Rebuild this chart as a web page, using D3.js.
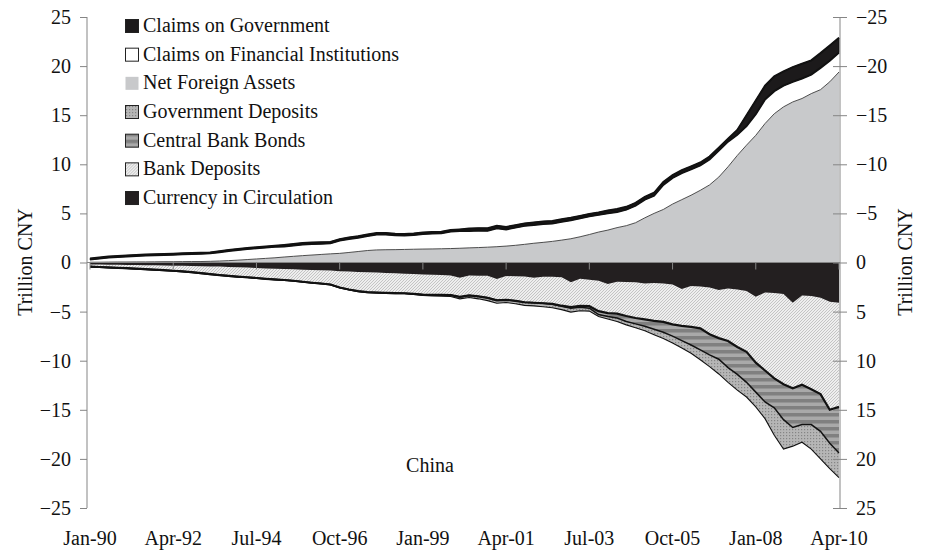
<!DOCTYPE html>
<html><head><meta charset="utf-8">
<script src="https://cdn.jsdelivr.net/npm/d3@7"></script>
<style>
html,body{margin:0;padding:0;background:#fff;}
</style></head>
<body><svg id="chart" width="928" height="556" font-family="Liberation Serif" font-size="20"></svg>
<script>
// quarterly observations, Jan-90 ... Apr-10 (index 0..81)
const tickLabels = ["Jan-90","Apr-92","Jul-94","Oct-96","Jan-99","Apr-01","Jul-03","Oct-05","Jan-08","Apr-10"];
const tickIndex = [0,9,18,27,36,45,54,63,72,81];
const yTicks = [-25,-20,-15,-10,-5,0,5,10,15,20,25];

// assets (trillion CNY)
const netForeignAssets = [0.03,0.03,0.04,0.05,0.05,0.06,0.06,0.07,0.08,0.08,
0.09,0.10,0.10,0.12,0.15,0.19,0.24,0.30,0.36,0.42,
0.48,0.56,0.63,0.70,0.76,0.82,0.88,0.93,1.02,1.12,
1.22,1.28,1.30,1.31,1.33,1.35,1.37,1.38,1.40,1.42,
1.45,1.49,1.52,1.56,1.61,1.67,1.75,1.85,1.96,2.05,
2.15,2.28,2.42,2.62,2.85,3.10,3.30,3.55,3.75,4.05,
4.55,5.00,5.40,5.95,6.40,6.85,7.35,7.90,8.70,9.75,
10.90,11.95,12.95,14.15,15.15,15.85,16.35,16.70,17.20,17.60,
18.40,19.40];
const claimsOnFinInst = [0.27,0.37,0.46,0.51,0.57,0.61,0.65,0.67,0.69,0.72,
0.74,0.76,0.79,0.81,0.90,0.99,1.04,1.07,1.09,1.10,
1.12,1.07,1.10,1.14,1.12,1.09,1.07,1.30,1.38,1.41,
1.48,1.57,1.55,1.46,1.42,1.45,1.53,1.57,1.58,1.73,
1.77,1.71,1.73,1.67,1.88,1.70,1.80,1.88,1.87,1.88,
1.82,1.87,1.88,1.88,1.85,1.75,1.71,1.60,1.63,1.74,
1.85,1.81,2.51,2.66,2.71,2.64,2.54,2.60,2.71,2.56,
2.10,1.95,2.15,2.45,2.30,2.16,2.05,2.04,1.93,2.22,
2.15,1.98];
const claimsOnGov = [0.10,0.10,0.10,0.10,0.10,0.10,0.10,0.10,0.10,0.10,
0.10,0.10,0.10,0.10,0.10,0.10,0.10,0.10,0.10,0.10,
0.10,0.15,0.15,0.15,0.15,0.15,0.15,0.15,0.15,0.15,
0.15,0.15,0.15,0.15,0.15,0.15,0.15,0.15,0.15,0.15,
0.15,0.25,0.25,0.25,0.25,0.25,0.25,0.25,0.25,0.25,
0.25,0.25,0.25,0.25,0.25,0.25,0.29,0.29,0.29,0.29,
0.29,0.29,0.29,0.29,0.29,0.29,0.29,0.29,0.29,0.29,
0.50,1.10,1.40,1.40,1.50,1.45,1.50,1.50,1.45,1.50,
1.55,1.50];
// liabilities (trillion CNY, drawn below zero)
const currency = [0.20,0.21,0.22,0.23,0.25,0.26,0.27,0.29,0.30,0.32,
0.34,0.36,0.38,0.40,0.42,0.45,0.48,0.52,0.56,0.60,
0.64,0.67,0.70,0.73,0.76,0.79,0.82,0.88,0.92,0.96,
1.00,1.03,1.06,1.10,1.15,1.18,1.22,1.25,1.27,1.32,
1.55,1.32,1.34,1.36,1.68,1.38,1.40,1.43,1.55,1.44,
1.46,1.50,2.00,1.65,1.75,1.85,2.20,1.95,1.98,2.00,
2.15,2.10,2.15,2.25,2.70,2.40,2.45,2.55,2.80,2.65,
2.75,2.90,3.50,3.05,3.10,3.20,4.10,3.35,3.40,3.60,
4.00,4.10];
const bankDeposits = [0.22,0.25,0.28,0.31,0.33,0.37,0.41,0.44,0.48,0.52,
0.56,0.62,0.70,0.78,0.86,0.91,0.96,0.98,1.02,1.06,
1.08,1.11,1.16,1.23,1.30,1.35,1.42,1.67,1.83,1.96,
2.02,2.03,2.04,2.02,1.98,2.02,2.06,2.05,2.03,2.00,
1.95,2.03,2.11,2.24,2.17,2.42,2.50,2.62,2.55,2.71,
2.76,2.90,2.55,2.77,2.70,3.10,2.95,3.25,3.47,3.65,
3.65,3.85,3.90,4.05,3.75,4.15,4.25,4.75,4.90,5.35,
5.85,6.20,6.70,7.95,8.70,9.20,8.70,9.10,9.50,9.80,
11.00,10.60];
const centralBankBonds = [0,0,0,0,0,0,0,0,0,0,
0,0,0,0,0,0,0,0,0,0,
0,0,0,0,0,0,0,0,0,0,
0,0,0,0,0,0,0,0,0,0,
0,0,0,0,0,0,0,0,0,0,
0.03,0.05,0.10,0.15,0.20,0.35,0.35,0.45,0.55,0.60,
0.70,0.85,1.05,1.20,1.50,1.85,2.20,2.10,2.15,2.70,
2.80,3.10,3.00,3.20,3.00,3.60,4.00,4.05,3.60,3.80,
3.40,4.70];
const govDeposits = [0.05,0.05,0.05,0.05,0.05,0.05,0.05,0.05,0.05,0.05,
0.05,0.05,0.05,0.05,0.05,0.05,0.05,0.05,0.05,0.05,
0.05,0.05,0.05,0.05,0.05,0.05,0.05,0.05,0.05,0.05,
0.05,0.05,0.05,0.05,0.05,0.05,0.08,0.10,0.12,0.15,
0.20,0.22,0.25,0.28,0.30,0.28,0.30,0.32,0.32,0.35,
0.35,0.35,0.40,0.35,0.30,0.20,0.25,0.35,0.35,0.40,
0.45,0.55,0.65,0.70,0.75,0.85,1.00,1.20,1.50,1.50,
1.60,1.50,1.50,1.70,2.80,3.00,1.90,1.80,2.50,2.80,
2.60,2.50];

const FONT = "'Liberation Serif', 'Times New Roman', 'DejaVu Serif', serif";
const svg = d3.select("#chart");
const defs = svg.append("defs");
// patterns
const pHatch = defs.append("pattern").attr("id","hatch").attr("patternUnits","userSpaceOnUse").attr("width",3).attr("height",3);
pHatch.append("rect").attr("width",3).attr("height",3).attr("fill","#eeeeee");
pHatch.append("path").attr("d","M0,3L3,0M-1,1L1,-1M2,4L4,2").attr("stroke","#b9b9b9").attr("stroke-width",0.8);
const pStripe = defs.append("pattern").attr("id","stripe").attr("patternUnits","userSpaceOnUse").attr("width",6).attr("height",7);
pStripe.append("rect").attr("width",6).attr("height",7).attr("fill","#a9a9a9");
pStripe.append("rect").attr("width",6).attr("height",3.5).attr("fill","#808080");
const pDots = defs.append("pattern").attr("id","dots").attr("patternUnits","userSpaceOnUse").attr("width",3).attr("height",3);
pDots.append("rect").attr("width",3).attr("height",3).attr("fill","#b6b6b6");
pDots.append("rect").attr("width",1.2).attr("height",1.2).attr("fill","#858585");

const x = d3.scaleLinear().domain([0, 81]).range([90, 839]);
const y = d3.scaleLinear().domain([-25, 25]).range([508, 17]);

const keys = ["nfa","cfi","cg","cur","bd","cbb","gd"];
const neg = v => (v === 0 ? -1e-9 : -v);
const table = netForeignAssets.map((v,i)=>({
  i, nfa:v, cfi:claimsOnFinInst[i], cg:claimsOnGov[i],
  cur:neg(currency[i]), bd:neg(bankDeposits[i]), cbb:neg(centralBankBonds[i]), gd:neg(govDeposits[i])
}));
const stacked = d3.stack().keys(keys).offset(d3.stackOffsetDiverging)(table);
const S = {}; stacked.forEach(s=>S[s.key]=s);

const fills = {nfa:"#c8c9cb", cfi:"#ffffff", cg:"#1c1a1b", cur:"#231f20", bd:"url(#hatch)", cbb:"url(#stripe)", gd:"url(#dots)"};
const area = d3.area().x(d=>x(d.data.i)).y0(d=>y(d[0])).y1(d=>y(d[1]));
const drawOrder = ["gd","cbb","bd","cur","nfa","cfi","cg"];
drawOrder.forEach(k=>{
  svg.append("path").datum(S[k]).attr("d",area).attr("fill",fills[k])
    .attr("stroke", k==="cg"?"#111":"none").attr("stroke-width",1);
});

// outline lines
const topLine = d3.line().x(d=>x(d.data.i)).y(d=>y(d[1]));
const botLine = d3.line().x(d=>x(d.data.i)).y(d=>y(d[0]));
svg.append("path").datum(S.nfa).attr("d",topLine).attr("fill","none").attr("stroke","#3a3a3a").attr("stroke-width",0.9);
svg.append("path").datum(S.cfi).attr("d",topLine).attr("fill","none").attr("stroke","#111").attr("stroke-width",2);
svg.append("path").datum(S.cg).attr("d",topLine).attr("fill","none").attr("stroke","#111").attr("stroke-width",2);
svg.append("path").datum(S.gd).attr("d",botLine).attr("fill","none").attr("stroke","#111").attr("stroke-width",1.1);
svg.append("path").datum(S.cbb).attr("d",botLine).attr("fill","none").attr("stroke","#111").attr("stroke-width",1.5);
svg.append("path").datum(S.bd).attr("d",botLine).attr("fill","none").attr("stroke","#111").attr("stroke-width",2.2);

// zero category axis
const axisColor = "#858585";
svg.append("line").attr("x1",87).attr("x2",840).attr("y1",y(0)).attr("y2",y(0)).attr("stroke",axisColor).attr("stroke-width",1);
svg.selectAll(".xt").data(tickIndex).enter().append("line")
  .attr("x1",d=>x(d)).attr("x2",d=>x(d)).attr("y1",y(0)).attr("y2",y(0)+7).attr("stroke",axisColor);

// left axis
const yl = svg.append("g").attr("transform","translate(87,0)")
  .call(d3.axisLeft(y).tickValues(yTicks).tickSize(7).tickPadding(9).tickFormat(d3.format("d")));
yl.select(".domain").attr("stroke",axisColor).attr("d","M0,"+y(25)+"V"+y(-25));
yl.selectAll(".tick line").attr("stroke",axisColor);

// right axis (inverted labels)
const yr = svg.append("g").attr("transform","translate(840,0)")
  .call(d3.axisRight(y).tickValues(yTicks).tickSize(7).tickPadding(9).tickFormat(d=>d3.format("d")(-d)));
yr.select(".domain").attr("stroke",axisColor).attr("d","M0,"+y(25)+"V"+y(-25));
yr.selectAll(".tick line").attr("stroke",axisColor).attr("x1",-7);

// bottom labels
svg.selectAll(".xl").data(tickIndex).enter().append("text")
  .attr("x",d=>x(d)).attr("y",545).attr("text-anchor","middle").text((d,i)=>tickLabels[i]);

// axis titles
svg.append("text").attr("transform","translate(32,262) rotate(-90)").attr("text-anchor","middle").text("Trillion CNY");
svg.append("text").attr("transform","translate(912,262) rotate(-90)").attr("text-anchor","middle").text("Trillion CNY");
svg.append("text").attr("x",430).attr("y",472).attr("text-anchor","middle").text("China");

// legend
const legendItems = [
  {name:"Claims on Government", fill:"#1c1a1b"},
  {name:"Claims on Financial Institutions", fill:"#ffffff"},
  {name:"Net Foreign Assets", fill:"#c8c9cb", noStroke:true},
  {name:"Government Deposits", fill:"url(#dots)"},
  {name:"Central Bank Bonds", fill:"url(#stripe)"},
  {name:"Bank Deposits", fill:"url(#hatch)"},
  {name:"Currency in Circulation", fill:"#231f20"}
];
const lg = svg.selectAll(".lg").data(legendItems).enter().append("g")
  .attr("transform",(d,i)=>`translate(0,${32 + i*28.67})`);
lg.append("rect").attr("x",125.5).attr("y",-12.5).attr("width",13).attr("height",13)
  .attr("fill",d=>d.fill).attr("stroke",d=>d.noStroke?"none":"#222").attr("stroke-width",1);
lg.append("text").attr("x",143).attr("y",0).text(d=>d.name);

svg.selectAll("text").attr("font-family",null).attr("font-size",null)
  .style("font-family",FONT).style("font-size","20px").style("fill","#111");
svg.selectAll("g").attr("font-family",null).attr("font-size",null);
</script></body></html>
